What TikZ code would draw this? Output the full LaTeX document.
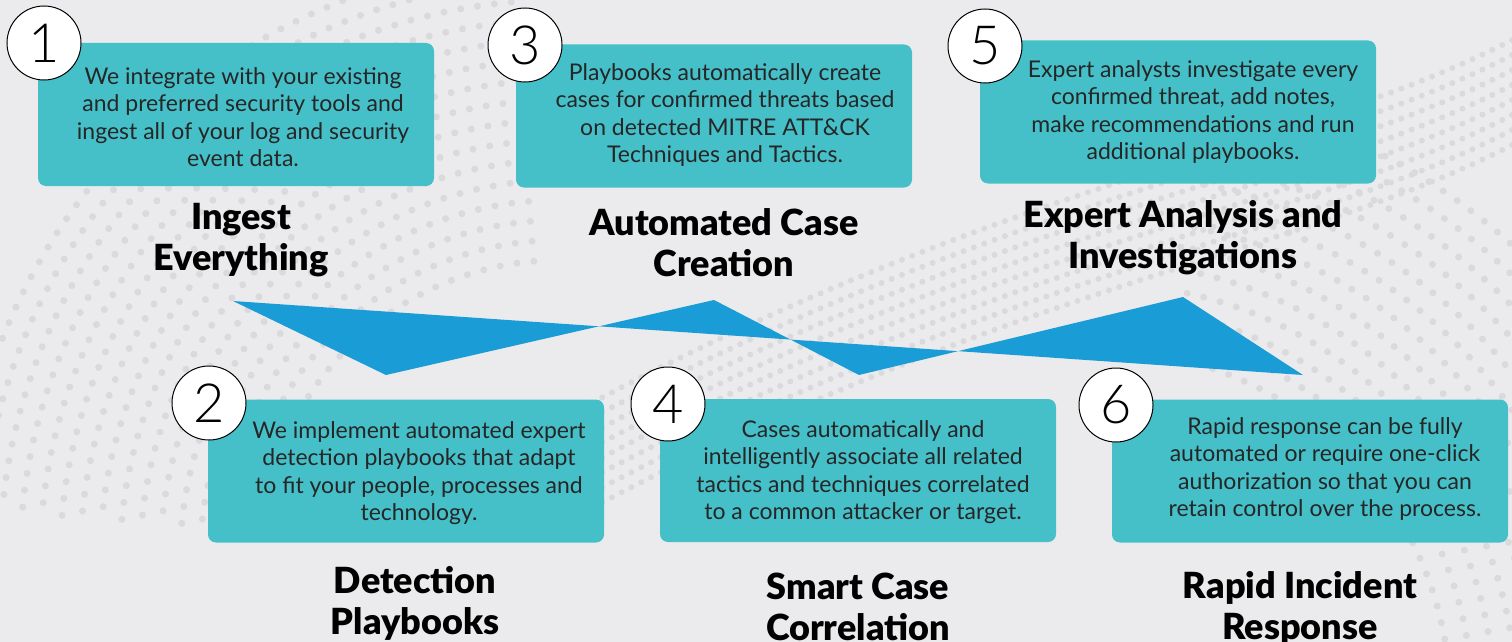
\documentclass[tikz,border=0pt]{standalone}
\usepackage{fontspec}
\setmainfont{Lato}
\newfontfamily\numfont{Lato Light}
\newfontfamily\headfont{Lato Black}
\usetikzlibrary{positioning}
\definecolor{bgGray}{HTML}{EBEBED}
\definecolor{dotGray}{HTML}{DADADC}
\definecolor{boxTeal}{HTML}{45C0C9}
\definecolor{ribbonBlue}{HTML}{1A9CD6}

\begin{document}
\begin{tikzpicture}[x=1pt,y=-1pt,
  stepbox/.style={fill=boxTeal, rounded corners=8pt, minimum width=396pt, minimum height=143pt, inner sep=0pt},
  desc/.style={align=center, text=black!85, font=\fontsize{23}{27.5}\selectfont},
  title/.style={align=center, font=\headfont\fontsize{36}{41}\selectfont},
  num/.style={circle, draw, fill=white, line width=1pt, minimum size=74pt, inner sep=0pt, font=\numfont\fontsize{54}{54}\selectfont},
  dots/.style={dotGray, line width=7pt, line cap=round, dash pattern=on 0pt off 17pt}]
\useasboundingbox (0,0) rectangle (1512,642);
\fill[bgGray] (0,0) rectangle (1512,642);

% halftone swirls in the background
\begin{scope}
  \clip (0,0) rectangle (1512,642);
  \foreach \r in {300,320,...,600}
    \draw[dots] plot[domain=95:175, samples=40, smooth] ({560+\r*cos(\x)},{560-\r*sin(\x)});
  \foreach \r in {350,372,...,620}
    \draw[dots] plot[domain=10:80, samples=40, smooth] ({1100+\r*cos(\x)},{700-\r*sin(\x)});
  \foreach \k in {0,...,7}
    \draw[dots, line width=6pt, dash pattern=on 0pt off 11pt]
      (1512,40+15*\k) .. controls (1300,150+15*\k) and (1000,180+15*\k) .. (560,420+15*\k);
\end{scope}

\fill[ribbonBlue] (233,301) -- (386,375) -- (714,300) -- (859,375) -- (1183,297) -- (1303,375) -- cycle;

\node[stepbox] (box1) at (236,114.5) {};
\node[stepbox] (box3) at (714,116) {};
\node[stepbox] (box5) at (1178,112) {};
\node[stepbox] (box2) at (406,471) {};
\node[stepbox] (box4) at (858,470.5) {};
\node[stepbox] (box6) at (1310,471) {};

\node[desc] (txt1) at (243,117) {We integrate with your existing\\and preferred security tools and\\ingest all of your log and security\\event data.};
\node[desc] (txt3) at (725,115) {Playbooks automatically create\\cases for confirmed threats based\\on detected MITRE ATT\&CK\\Techniques and Tactics.};
\node[desc] (txt5) at (1193,112) {Expert analysts investigate every\\confirmed threat, add notes,\\make recommendations and run\\additional playbooks.};
\node[desc] (txt2) at (419,473) {We implement automated expert\\detection playbooks that adapt\\to fit your people, processes and\\technology.};
\node[desc] (txt4) at (863,472) {Cases automatically and\\intelligently associate all related\\tactics and techniques correlated\\to a common attacker or target.};
\node[desc] (txt6) at (1325,469) {Rapid response can be fully\\automated or require one-click\\authorization so that you can\\retain control over the process.};

\node[num] (n1) at (44,43) {1};
\node[num] (n3) at (525,45) {3};
\node[num] (n5) at (985,46) {5};
\node[num] (n2) at (209,403) {2};
\node[num] (n4) at (668,404) {4};
\node[num] (n6) at (1116,405) {6};

\node[title] (ttl1) at (241,240) {Ingest\\Everything};
\node[title] (ttl3) at (724,243) {Automated Case\\Creation};
\node[title] (ttl5) at (1183,238) {Expert Analysis and\\Investigations};
\node[title] (ttl2) at (415,603) {Detection\\Playbooks};
\node[title] (ttl4) at (858,607) {Smart Case\\Correlation};
\node[title] (ttl6) at (1300,608) {Rapid Incident\\Response};
\end{tikzpicture}
\end{document}
